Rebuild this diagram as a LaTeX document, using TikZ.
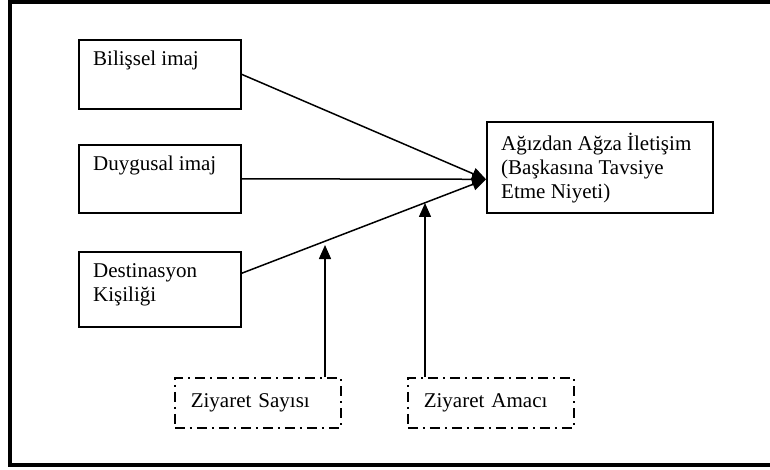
\documentclass[tikz,border=0pt]{standalone}
\usepackage{fontspec}
\setmainfont{Liberation Serif}
\usepackage{tikz}
\usetikzlibrary{shapes, arrows.meta, positioning}

\begin{document}
\begin{tikzpicture}[x=1pt, y=-1pt,
        yazi/.style={font=\fontsize{21}{24}\selectfont, align=left, inner sep=0pt},
        kutu/.style={draw, line width=1.6pt, anchor=north west, minimum width=162pt,
            label={[yazi, anchor=north west, xshift=15pt, yshift=-12pt]north west:#1}},
        kesik/.style={yazi, draw, line width=1.6pt, dash pattern=on 10pt off 5pt on 2pt off 5pt,
            anchor=north west, minimum height=50pt, text width=134pt, inner xsep=16pt},
        ok/.style={line width=1.5pt, -{Triangle[length=14pt, width=12pt]}}]
            \useasboundingbox (0,0) rectangle (770,470);
            % cerceve
            \draw[line width=4pt] (10,2.5) rectangle (800,465);

            % kutular
            \node[kutu={Bilişsel imaj}, minimum height=69pt] (bilissel) at (78,39) {};
            \node[kutu={Duygusal imaj}, minimum height=68pt] (duygusal) at (78,144) {};
            \node[kutu={Destinasyon\\Kişiliği}, minimum height=75pt] (destinasyon) at (78,251) {};
            \node[kutu={Ağızdan Ağza İletişim\\(Başkasına Tavsiye\\Etme Niyeti)},
                minimum width=226pt, minimum height=91pt] (hedef) at (486,121) {};

            \node[kesik] (sayisi) at (174,377) {Ziyaret Sayısı};
            \node[kesik] (amaci) at (407,377) {Ziyaret Amacı};

            % oklar
            \coordinate (uc) at ([yshift=-12pt]hedef.west);
            \draw[ok] (bilissel.east) -- (uc);
            \draw[ok] (duygusal.east) -- (uc);
            \draw[ok] ([yshift=16pt]destinasyon.east) -- (uc);

            \coordinate (s) at (325,245);
            \coordinate (a) at (425,203);
            \draw[ok] (s |- sayisi.north) -- (s);
            \draw[ok] (a |- amaci.north) -- (a);
        \end{tikzpicture}
\end{document}
